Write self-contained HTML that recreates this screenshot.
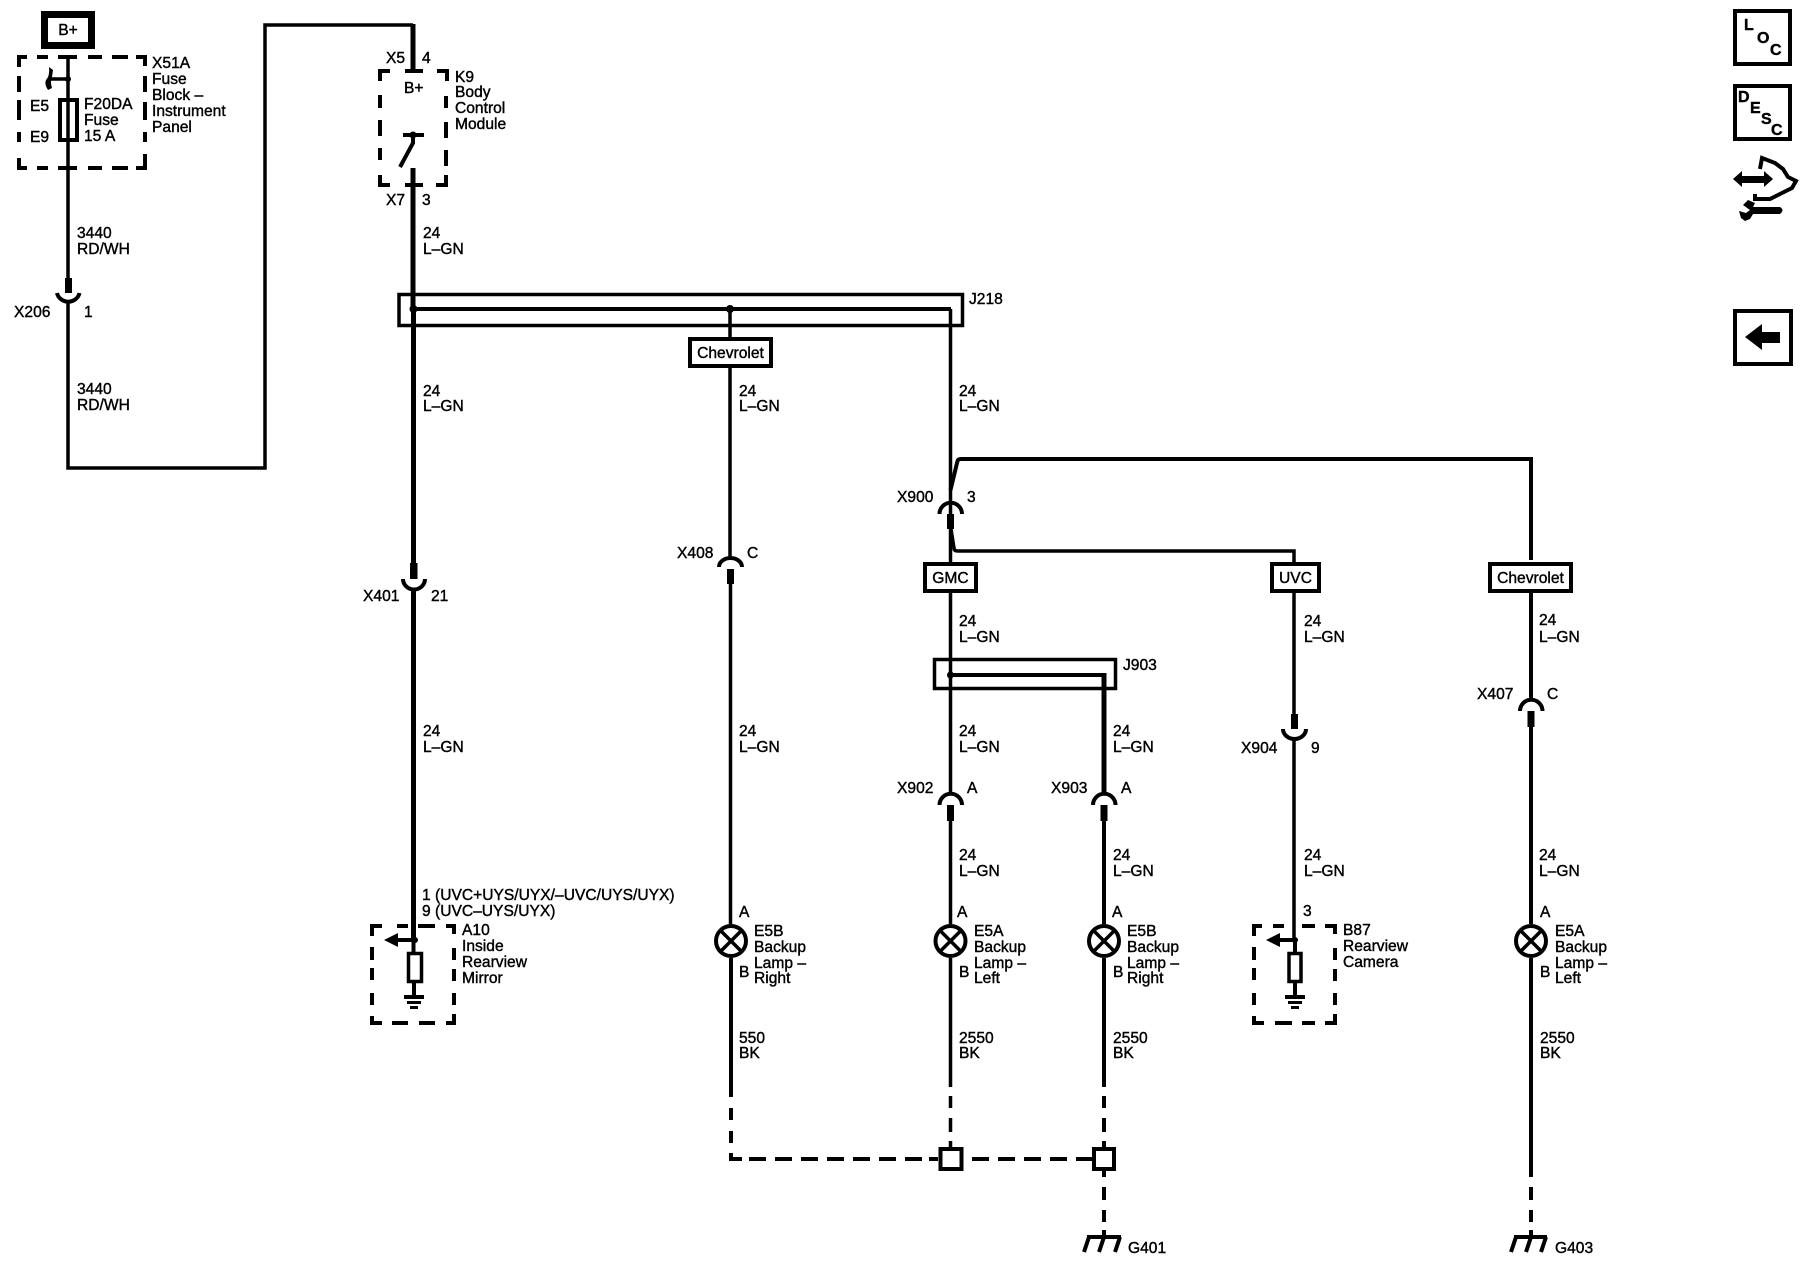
<!DOCTYPE html>
<html>
<head>
<meta charset="utf-8">
<title>Backup Lamps Wiring Diagram</title>
<style>
html,body{margin:0;padding:0;background:#fff;width:1800px;height:1280px;overflow:hidden}
svg{display:block}
text{font-family:"Liberation Sans",Arial,sans-serif;font-size:15.6px;fill:#000;stroke:#000;stroke-width:.4px}
.w{fill:none;stroke:#000;stroke-width:3.5}
.t{fill:none;stroke:#000;stroke-width:5}
.d{fill:none;stroke:#000;stroke-width:4}
.b{fill:#000;stroke:none}
.i{font-weight:bold;font-size:16px}
</style>
</head>
<body>
<svg width="1800" height="1280" viewBox="0 0 1800 1280" xmlns="http://www.w3.org/2000/svg">
<rect width="1800" height="1280" fill="#fff" stroke="none"/>

<!-- B+ -->
<rect x="44.500" y="14.500" width="47" height="31" fill="#fff" stroke="#000" stroke-width="7"/>
<text x="68" y="35" text-anchor="middle">B+</text>

<!-- X51A -->
<path class="d" d="M19 67V57H27M37 57H48M58 57H77M88 57H102M112 57H128M136 57H145V66M145 76V92M145 102V120M145 132V142M145 154V168H136M128 168H112M102 168H88M77 168H58M48 168H37M27 168H19V158M19 142V132M19 120V100M19 92V76"/>
<path class="w" d="M68 57V278"/>
<path class="w" d="M68 79H50"/>
<circle class="b" cx="68" cy="79" r="3"/>
<path class="b" d="M49 67L53 70L52 77Q50 82 52 88L48 90Q44 84 46 80Q50 76 49 67Z"/>
<rect x="60" y="100" width="17" height="40" fill="none" stroke="#000" stroke-width="4"/>
<text x="30" y="111">E5</text>
<text x="30" y="142">E9</text>
<text x="84" y="109">F20DA</text>
<text x="84" y="125">Fuse</text>
<text x="84" y="141">15 A</text>
<text x="152" y="68">X51A</text>
<text x="152" y="84">Fuse</text>
<text x="152" y="100">Block –</text>
<text x="152" y="116">Instrument</text>
<text x="152" y="132">Panel</text>
<text x="77" y="238">3440</text>
<text x="77" y="254">RD/WH</text>

<!-- X206 -->
<rect class="b" x="65" y="278" width="7" height="15"/>
<path class="d" d="M57 293A11.500 11 0 0 0 79.500 293"/>
<text x="14" y="317">X206</text>
<text x="84" y="317">1</text>
<path class="w" d="M68 303V468H265V25H413"/>
<text x="77" y="394">3440</text>
<text x="77" y="410">RD/WH</text>

<!-- K9 -->
<path class="t" d="M413 24V71"/>
<path class="d" d="M390 71H380V81M405 71H423M437 71H447V81M446 96V108M446 122V138M446 150V166M446 175V185H436M423 185H405M390 185H380V175M380 160V148M380 136V120M380 108V95"/>
<text x="386" y="63">X5</text>
<text x="422" y="63">4</text>
<text x="404" y="93">B+</text>
<text x="455" y="82">K9</text>
<text x="455" y="97">Body</text>
<text x="455" y="113">Control</text>
<text x="455" y="129">Module</text>
<path class="d" d="M403 135H424"/>
<circle class="b" cx="413" cy="135" r="3.500"/>
<path class="d" d="M413 135V143L400 167"/>
<path class="t" d="M413 168V309"/>
<text x="386" y="205">X7</text>
<text x="422" y="205">3</text>
<text x="423" y="238">24</text>
<text x="423" y="254">L–GN</text>

<!-- J218 -->
<rect x="399" y="294.500" width="563.500" height="31" fill="none" stroke="#000" stroke-width="3.500"/>
<path class="d" d="M413 309H951"/>
<circle class="b" cx="413.500" cy="309" r="4"/>
<circle class="b" cx="730" cy="309" r="4"/>
<text x="969" y="304">J218</text>
<path class="w" d="M730 309V337"/>
<rect x="690" y="339" width="81" height="27" fill="#fff" stroke="#000" stroke-width="4"/>
<text x="730.500" y="358" text-anchor="middle">Chevrolet</text>
<path class="w" d="M730 366V558"/>
<path class="w" d="M950.500 309V520"/>
<text x="423" y="396">24</text>
<text x="423" y="411">L–GN</text>
<text x="739" y="396">24</text>
<text x="739" y="411">L–GN</text>
<text x="959" y="396">24</text>
<text x="959" y="411">L–GN</text>

<!-- Left trunk -->
<path class="t" d="M413.500 309V563"/>
<rect class="b" x="410" y="563" width="7.500" height="16"/>
<path class="d" d="M403 579A11 10.500 0 0 0 425 579"/>
<path class="t" d="M413.500 590V926"/>
<text x="363" y="601">X401</text>
<text x="431" y="601">21</text>
<text x="423" y="736">24</text>
<text x="423" y="752">L–GN</text>
<text x="422" y="900">1 (UVC+UYS/UYX/–UVC/UYS/UYX)</text>
<text x="422" y="916">9 (UVC–UYS/UYX)</text>

<!-- A10 -->
<path class="d" d="M372 936V926H382M397 926H408M418 926H435M446 926H454V934M454 948V960M454 969V981M454 993V1005M454 1014V1023H446M435 1023H419M408 1023H392M382 1023H372V1016M372 1005V993M372 980V968M372 960V947"/>
<path class="t" d="M413.500 926V940"/>
<circle class="b" cx="415" cy="940" r="3"/>
<path class="d" d="M415 940H396"/>
<path class="b" d="M384 940L398 933V947Z"/>
<path class="d" d="M413.500 940V952"/>
<rect x="408.500" y="953.500" width="13" height="28" fill="none" stroke="#000" stroke-width="3.500"/>
<path class="d" d="M414 982V997"/>
<path class="b" d="M404 995H424V999H404ZM407 1001H421V1004H407ZM410 1006H418V1009H410Z"/>
<text x="462" y="935">A10</text>
<text x="462" y="951">Inside</text>
<text x="462" y="967">Rearview</text>
<text x="462" y="983">Mirror</text>

<!-- X408 + Left lamp -->
<path class="d" d="M719 567A11.500 9 0 0 1 742 567"/>
<rect class="b" x="727" y="569" width="7" height="15"/>
<text x="677" y="558">X408</text>
<text x="747" y="558">C</text>
<path class="w" d="M730.500 584V924"/>
<text x="739" y="736">24</text>
<text x="739" y="752">L–GN</text>
<text x="739" y="917">A</text>
<circle cx="731" cy="941" r="15" fill="#fff" stroke="#000" stroke-width="4"/>
<path class="w" d="M720.500 930.500L741.500 951.500M741.500 930.500L720.500 951.500"/>
<text x="739" y="977">B</text>
<text x="754" y="936">E5B</text>
<text x="754" y="952">Backup</text>
<text x="754" y="968">Lamp –</text>
<text x="754" y="983">Right</text>
<path class="d" d="M731 958V1097"/>
<text x="739" y="1043">550</text>
<text x="739" y="1058">BK</text>
<path class="d" d="M731 1108V1120M731 1131V1143M731 1153V1159H742M749 1159H766M775 1159H792M801 1159H818M827 1159H844M853 1159H870M879 1159H896M905 1159H922M929 1159H938"/>

<!-- X900 -->
<path class="d" d="M950.500 490L957.500 461Q958 459 961 459H1531V560"/>
<path class="d" d="M939.500 514A11 11 0 0 1 962 514"/>
<rect class="b" x="947" y="514" width="7" height="15"/>
<text x="897" y="502">X900</text>
<text x="967" y="502">3</text>
<path class="w" d="M950.500 529V562"/>
<path class="w" d="M951 529L954 548Q954 551 958 551H1294V562"/>
<rect x="925" y="564" width="51" height="27" fill="#fff" stroke="#000" stroke-width="4"/>
<text x="950.500" y="583" text-anchor="middle">GMC</text>
<rect x="1272" y="564" width="47" height="27" fill="#fff" stroke="#000" stroke-width="4"/>
<text x="1295.500" y="583" text-anchor="middle">UVC</text>
<text x="959" y="626">24</text>
<text x="959" y="642">L–GN</text>
<text x="1304" y="626">24</text>
<text x="1304" y="642">L–GN</text>

<!-- J903 -->
<path class="w" d="M950.500 593V793"/>
<rect x="934.500" y="659.500" width="181" height="29" fill="none" stroke="#000" stroke-width="3.500"/>
<path class="d" d="M950 675H1104"/>
<circle class="b" cx="950.500" cy="675" r="3.500"/>
<path class="t" d="M1104 673V793"/>
<text x="1123" y="670">J903</text>
<text x="959" y="736">24</text>
<text x="959" y="752">L–GN</text>
<text x="1113" y="736">24</text>
<text x="1113" y="752">L–GN</text>

<!-- X902 / X903 -->
<path class="d" d="M939.500 805A11 11 0 0 1 962 805"/>
<rect class="b" x="947" y="805" width="7" height="16"/>
<path class="d" d="M1093 805A11 11 0 0 1 1115.500 805"/>
<rect class="b" x="1100.500" y="805" width="7" height="16"/>
<text x="897" y="793">X902</text>
<text x="967" y="793">A</text>
<text x="1051" y="793">X903</text>
<text x="1121" y="793">A</text>

<!-- E5A Left -->
<path class="w" d="M950.500 821V924"/>
<text x="959" y="860">24</text>
<text x="959" y="876">L–GN</text>
<text x="957" y="917">A</text>
<circle cx="950.500" cy="941" r="15" fill="#fff" stroke="#000" stroke-width="4"/>
<path class="w" d="M940 930.500L961 951.500M961 930.500L940 951.500"/>
<text x="959" y="977">B</text>
<text x="974" y="936">E5A</text>
<text x="974" y="952">Backup</text>
<text x="974" y="968">Lamp –</text>
<text x="974" y="983">Left</text>
<path class="w" d="M950.500 958V1087"/>
<text x="959" y="1043">2550</text>
<text x="959" y="1058">BK</text>
<path class="w" d="M950.500 1096V1108M950.500 1118V1132M950.500 1141V1147"/>
<rect x="940.500" y="1149" width="21" height="20" fill="#fff" stroke="#000" stroke-width="4"/>
<path class="d" d="M972 1159H989M998 1159H1015M1024 1159H1041M1050 1159H1067M1076 1159H1092"/>
<path class="d" d="M929 1159H938"/>

<!-- E5B Right -->
<path class="d" d="M1104 821V924"/>
<text x="1113" y="860">24</text>
<text x="1113" y="876">L–GN</text>
<text x="1112" y="917">A</text>
<circle cx="1104" cy="941" r="15" fill="#fff" stroke="#000" stroke-width="4"/>
<path class="w" d="M1093.500 930.500L1114.500 951.500M1114.500 930.500L1093.500 951.500"/>
<text x="1113" y="977">B</text>
<text x="1127" y="936">E5B</text>
<text x="1127" y="952">Backup</text>
<text x="1127" y="968">Lamp –</text>
<text x="1127" y="983">Right</text>
<path class="d" d="M1104 958V1087"/>
<text x="1113" y="1043">2550</text>
<text x="1113" y="1058">BK</text>
<path class="d" d="M1104 1096V1108M1104 1118V1132M1104 1141V1147"/>
<rect x="1094" y="1149" width="20" height="20" fill="#fff" stroke="#000" stroke-width="4"/>
<path class="d" d="M1104 1171V1177M1104 1187V1200M1104 1210V1222M1104 1230V1237"/>
<path class="d" d="M1087 1237H1121M1089 1237L1084 1252M1104 1237L1099 1252M1120 1237L1115 1252"/>
<text x="1128" y="1253">G401</text>

<!-- UVC / B87 -->
<path class="w" d="M1294 593V714"/>
<rect class="b" x="1291" y="714" width="7" height="15"/>
<path class="d" d="M1283 729A11.500 10 0 0 0 1306 729"/>
<path class="w" d="M1294 740V940"/>
<text x="1241" y="753">X904</text>
<text x="1311" y="753">9</text>
<text x="1304" y="860">24</text>
<text x="1304" y="876">L–GN</text>
<text x="1303" y="916">3</text>
<path class="d" d="M1254 936V926H1262M1273 926H1284M1302 926H1315M1325 926H1335V934M1335 948V960M1335 969V981M1335 993V1005M1335 1014V1023H1325M1315 1023H1302M1292 1023H1275M1264 1023H1254V1016M1254 1005V993M1254 980V968M1254 960V947"/>
<circle class="b" cx="1295" cy="940" r="3"/>
<path class="d" d="M1295 940H1278"/>
<path class="b" d="M1266 940L1280 933V947Z"/>
<rect x="1289" y="953.500" width="12" height="28" fill="none" stroke="#000" stroke-width="3.500"/>
<path class="d" d="M1295 940V952M1295 982V997"/>
<path class="b" d="M1285 995H1305V999H1285ZM1288 1001H1302V1004H1288ZM1291 1006H1299V1009H1291Z"/>
<text x="1343" y="935">B87</text>
<text x="1343" y="951">Rearview</text>
<text x="1343" y="967">Camera</text>

<!-- Chevrolet right -->
<rect x="1490" y="564" width="81" height="27" fill="#fff" stroke="#000" stroke-width="4"/>
<text x="1530.500" y="583" text-anchor="middle">Chevrolet</text>
<path class="d" d="M1531 592V699"/>
<text x="1539" y="625">24</text>
<text x="1539" y="642">L–GN</text>
<path class="d" d="M1520 711A11 11 0 0 1 1542.500 711"/>
<rect class="b" x="1527.500" y="711" width="7" height="16"/>
<text x="1477" y="699">X407</text>
<text x="1547" y="699">C</text>
<path class="d" d="M1531 727V924"/>
<text x="1539" y="860">24</text>
<text x="1539" y="876">L–GN</text>
<text x="1540" y="917">A</text>
<circle cx="1531" cy="941" r="15" fill="#fff" stroke="#000" stroke-width="4"/>
<path class="w" d="M1520.500 930.500L1541.500 951.500M1541.500 930.500L1520.500 951.500"/>
<text x="1540" y="977">B</text>
<text x="1555" y="936">E5A</text>
<text x="1555" y="952">Backup</text>
<text x="1555" y="968">Lamp –</text>
<text x="1555" y="983">Left</text>
<path class="d" d="M1531 958V1177"/>
<text x="1540" y="1043">2550</text>
<text x="1540" y="1058">BK</text>
<path class="d" d="M1531 1187V1200M1531 1210V1222M1531 1230V1237"/>
<path class="d" d="M1514 1237H1547M1516 1237L1511 1252M1531 1237L1526 1252M1546 1237L1541 1252"/>
<text x="1555" y="1253">G403</text>

<!-- Right icons -->
<rect x="1735" y="11" width="55" height="53" fill="#fff" stroke="#000" stroke-width="4"/>
<text class="i" x="1744" y="30">L</text>
<text class="i" x="1757" y="43">O</text>
<text class="i" x="1770" y="55">C</text>
<rect x="1735" y="86" width="55" height="53" fill="#fff" stroke="#000" stroke-width="4"/>
<text class="i" x="1738" y="102">D</text>
<text class="i" x="1750" y="113">E</text>
<text class="i" x="1761" y="124">S</text>
<text class="i" x="1771" y="135">C</text>
<rect x="1735" y="311" width="56" height="53" fill="#fff" stroke="#000" stroke-width="4"/>
<path class="b" d="M1745 337L1762 324V332H1780V343H1762V350Z"/>
<path class="b" d="M1733 179L1742 171V176H1764V171L1773 179L1764 187V183H1742V187Z"/>
<path class="d" d="M1760 169L1762 158L1775 163L1783 169L1788 177L1796 181L1792 188L1778 195L1770 199L1755 199V194"/>
<path class="b" d="M1748 200L1755 203L1753 207H1780Q1785 210 1780 214H1753L1750 219L1745 221L1741 218L1739 211L1746 213L1750 210L1743 205Z"/>
</svg>
</body>
</html>
